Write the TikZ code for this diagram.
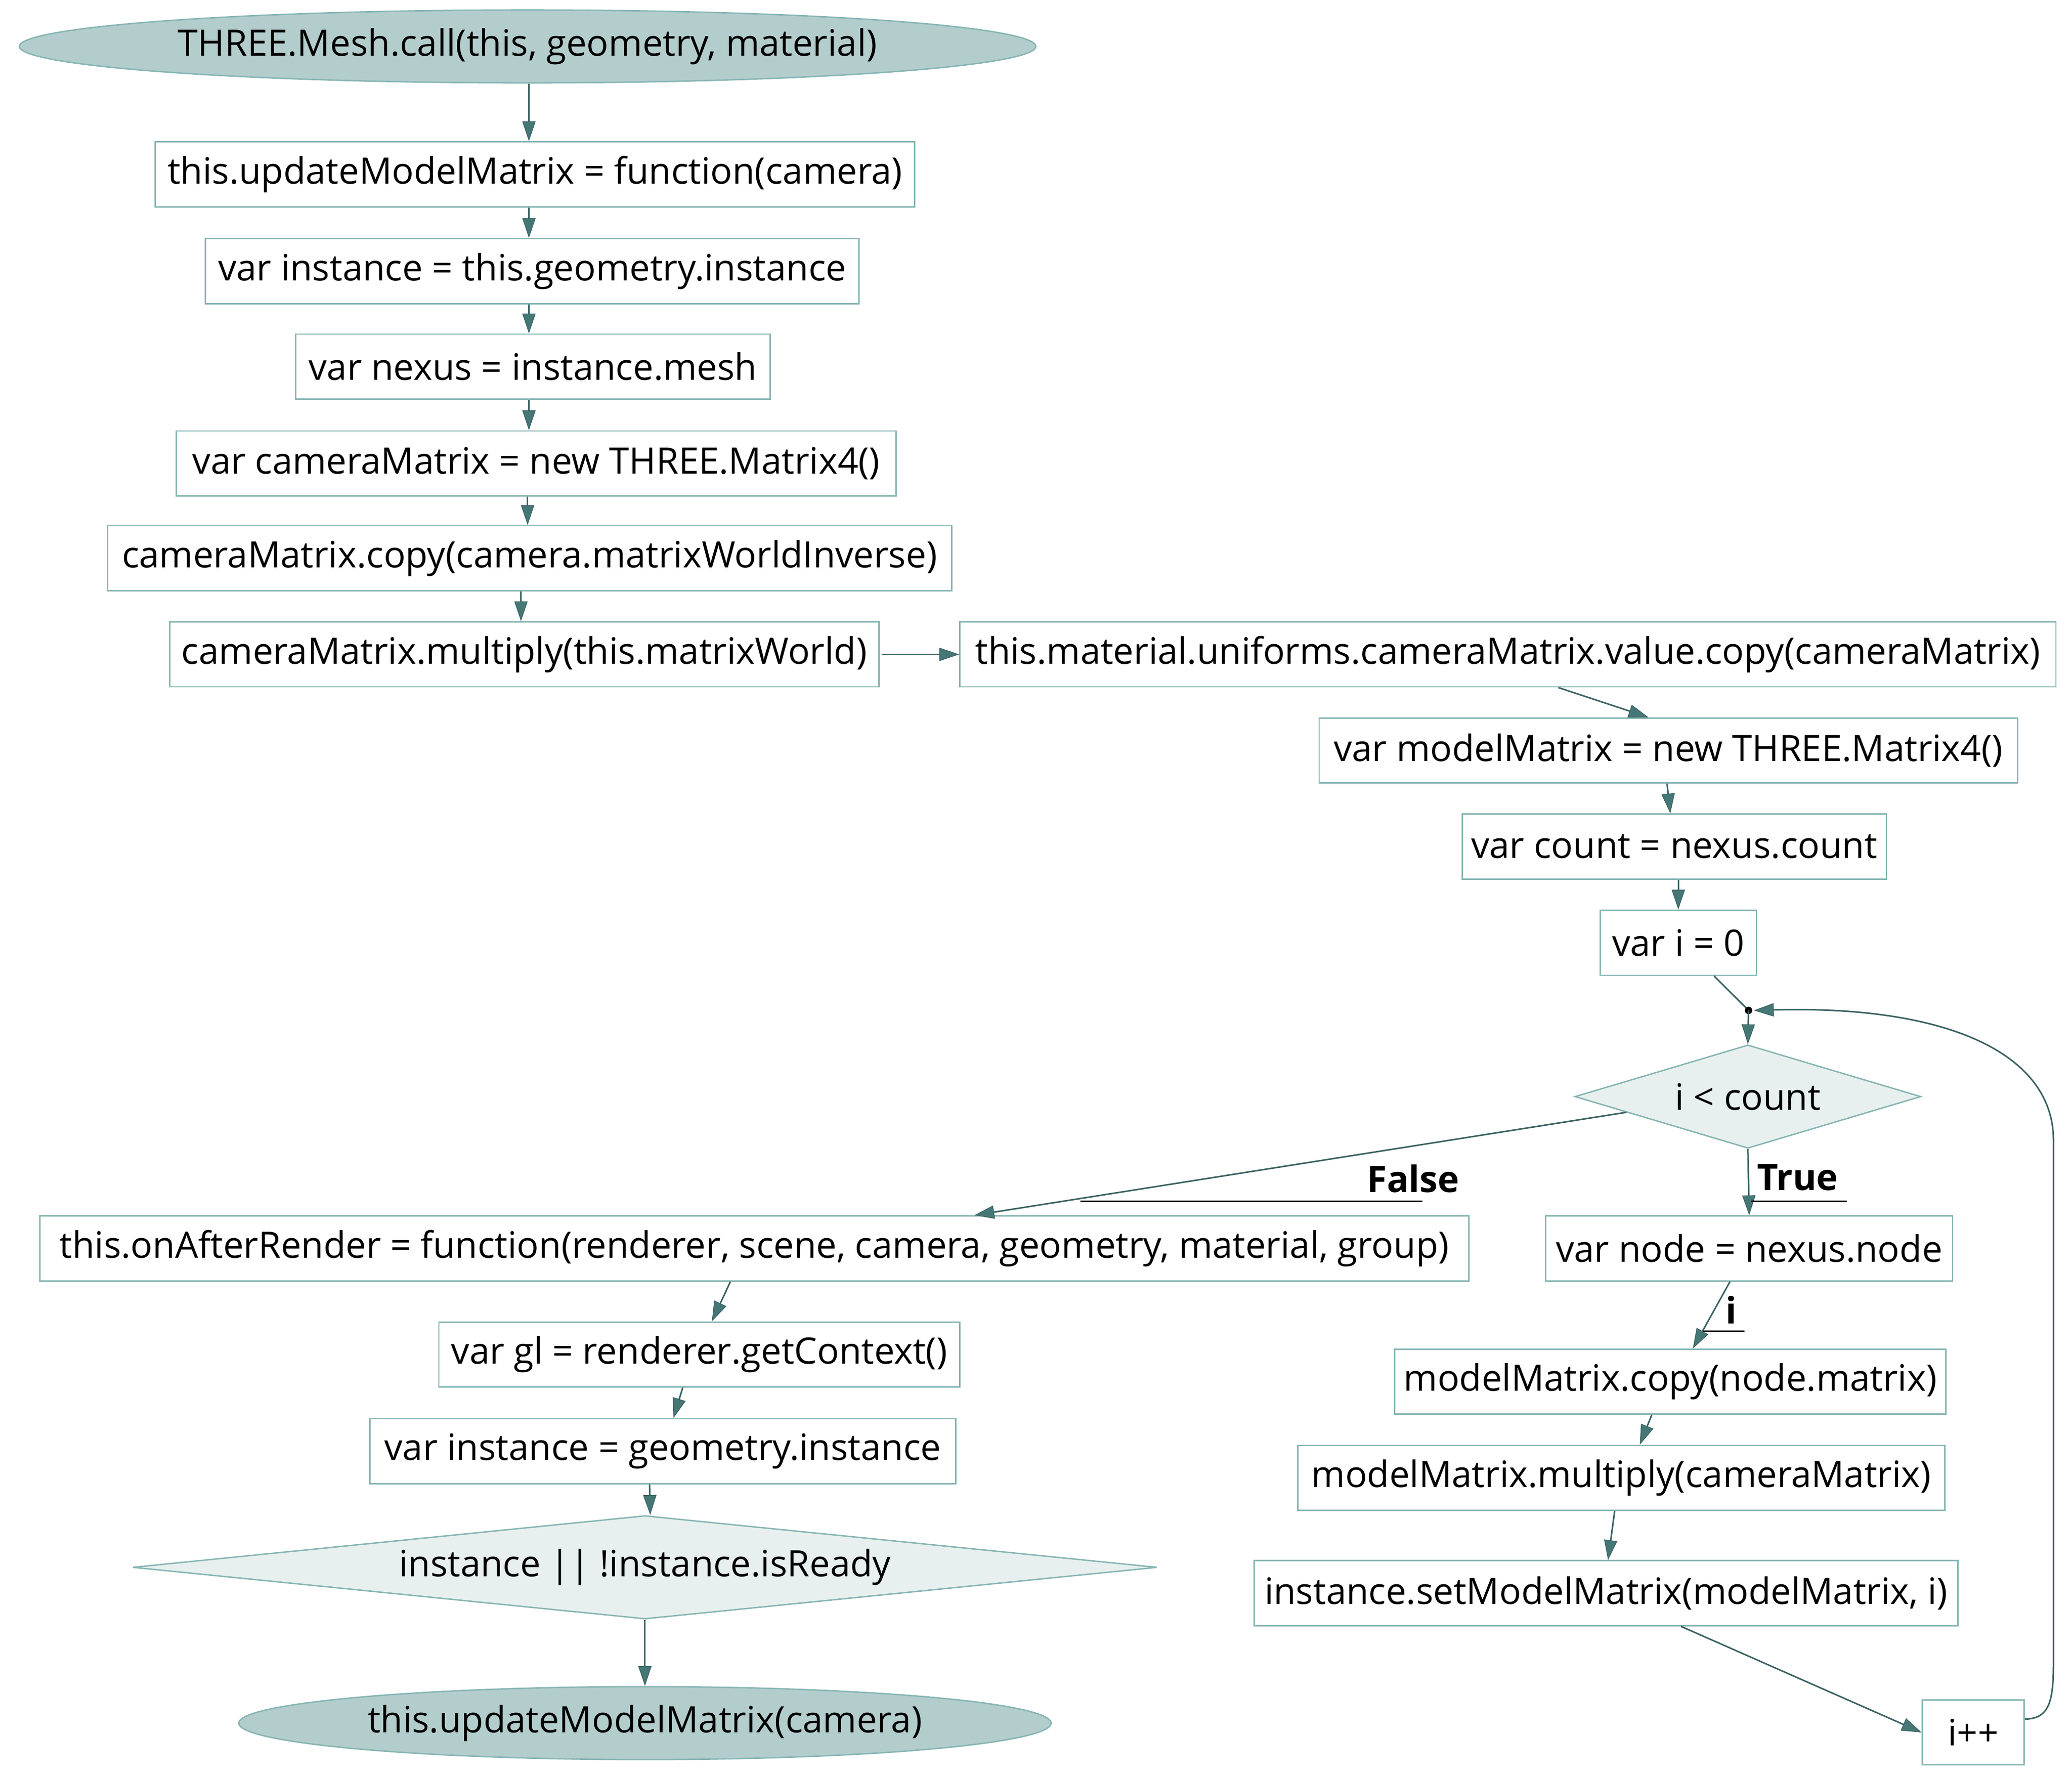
\documentclass[tikz,border=0pt]{standalone}
\usepackage{fontspec}
\setmainfont{Open Sans}
\usetikzlibrary{shapes.geometric,arrows.meta,calc}
\definecolor{boxc}{HTML}{86B5B3}
\definecolor{ellfill}{HTML}{B3CDCC}
\definecolor{dfill}{HTML}{E8F0EF}
\definecolor{edgec}{HTML}{3A6262}
\definecolor{tipc}{HTML}{467777}
\tikzset{
  box/.style={draw=boxc, line width=0.6pt, rectangle, inner sep=0pt, minimum height=0.98cm, font=\fontsize{15.6}{18}\selectfont},
  term/.style={draw=boxc, line width=0.6pt, fill=ellfill, ellipse, inner sep=0pt, minimum height=1.1cm, font=\fontsize{15.6}{18}\selectfont},
  cond/.style={draw=boxc, line width=0.6pt, fill=dfill, diamond, inner sep=0pt, minimum height=1.56cm, font=\fontsize{15.6}{18}\selectfont},
  edge/.style={draw=edgec, line width=0.65pt, -{Triangle[length=0.3cm,width=0.2cm,fill=tipc,line width=0.3pt]}},
  plain/.style={draw=edgec, line width=0.65pt},
  lab/.style={inner sep=0pt, font=\fontsize{15.6}{18}\selectfont\bfseries},
  ul/.style={draw=black, line width=0.75pt}
}
\begin{document}
\begin{tikzpicture}[x=0.02cm, y=-0.02cm]
\useasboundingbox (0,0) rectangle (1563,1340);
\fill[white] (0,0) rectangle (1563,1340);

\node[term, minimum width=15.34cm] (start) at (398,35) {THREE.Mesh.call(this, geometry, material)};
\node[box, minimum width=11.46cm] (b1) at (403.5,131.5) {this.updateModelMatrix = function(camera)};
\node[box, minimum width=9.86cm] (b2) at (401.5,204.5) {var instance = this.geometry.instance};
\node[box, minimum width=7.16cm] (b3) at (402,276.5) {var nexus = instance.mesh};
\node[box, minimum width=10.86cm] (b4) at (404.5,349.5) {var cameraMatrix = new THREE.Matrix4()};
\node[box, minimum width=12.74cm] (b5) at (399.5,421) {cameraMatrix.copy(camera.matrixWorldInverse)};
\node[box, minimum width=10.7cm] (b6) at (395.5,493.5) {cameraMatrix.multiply(this.matrixWorld)};
\node[box, minimum width=16.54cm] (b7) at (1137.5,493.5) {this.material.uniforms.cameraMatrix.value.copy(cameraMatrix)};
\node[box, minimum width=10.54cm] (b8) at (1258.5,566) {var modelMatrix = new THREE.Matrix4()};
\node[box, minimum width=6.4cm] (b9) at (1263,638.5) {var count = nexus.count};
\node[box, minimum width=2.36cm] (b10) at (1266,711) {var i = 0};
\coordinate (j) at (1319,762);
\node[cond, minimum width=5.22cm, shape aspect=3.35] (d1) at (1318.5,827) {i < count};
\node[box, minimum width=21.56cm] (b11) at (569,941.5) {this.onAfterRender = function(renderer, scene, camera, geometry, material, group)};
\node[box, minimum width=6.14cm] (b12) at (1319.5,941.5) {var node = nexus.node};
\node[box, minimum width=7.86cm] (b13) at (527.5,1021.5) {var gl = renderer.getContext()};
\node[box, minimum width=8.32cm] (b14) at (1260,1042) {modelMatrix.copy(node.matrix)};
\node[box, minimum width=8.84cm] (b15) at (500,1094.5) {var instance = geometry.instance};
\node[box, minimum width=9.76cm] (b16) at (1223,1114.5) {modelMatrix.multiply(cameraMatrix)};
\node[cond, minimum width=15.46cm, shape aspect=9.9] (d2) at (486.5,1182) {instance || !instance.isReady};
\node[box, minimum width=10.62cm] (b17) at (1211.5,1201.5) {instance.setModelMatrix(modelMatrix, i)};
\node[term, minimum width=12.26cm] (end) at (486.5,1299.5) {this.updateModelMatrix(camera)};
\node[box, minimum width=1.54cm] (b18) at (1488.5,1306.5) {i++};

% edges
\draw[edge] (start.south -| 399,0) -- (b1.north -| 399,0);
\draw[edge] (b1.south -| 399,0) -- (b2.north -| 399,0);
\draw[edge] (b2.south -| 399,0) -- (b3.north -| 399,0);
\draw[edge] (b3.south -| 399,0) -- (b4.north -| 399,0);
\draw[edge] (b4.south -| 398,0) -- (b5.north -| 398,0);
\draw[edge] (b5.south -| 393,0) -- (b6.north -| 393,0);
\draw[edge] (b6.east) ++(2,0) -- (b7.west);
\draw[edge] ($(b7.south)+(38,0)$) -- ($(b8.north)+(-15,0)$);
\draw[edge] ($(b8.south)+(-1,0)$) -- ($(b9.north)+(-3,0)$);
\draw[edge] (b10.north |- b9.south) -- (b10.north);
\draw[plain] ($(b10.south)+(27,0)$) -- (j);
\fill[black] (j) circle (2.8);
\draw[edge] (j) -- (d1.north);
\draw[edge] ($(b18.east)+(0,-10)$) .. controls (1545,1296) and (1549,1285) .. (1549,1255) -- (1549,860) .. controls (1549,795) and (1470,758) .. ($(j)+(4,0)$);

% False branch
\draw[edge] ($(d1.west)!0.3!(d1.south)$) -- coordinate[pos=0.837] (fu) ($(b11.north)+(166,0)$);
\node[lab] (flab) at (1066,889) {False};
\coordinate (fe) at (1073,906);
\draw[ul] (fu |- fe) -- (fe);

% True branch
\draw[edge] (d1.south) -- (b12.north);
\node[lab] (tlab) at (1356,888) {True};
\coordinate (ts) at (1321,906);
\coordinate (te) at (1393,906);
\draw[ul] (ts) -- (te);

% i branch
\draw[edge] ($(b12.south)+(-14.5,0)$) -- coordinate[pos=0.73] (iu) ($(b14.north)+(17,0)$);
\node[lab] (ilab) at (1306,988) {i};
\coordinate (ie) at (1316,1004);
\draw[ul] (iu |- ie) -- (ie);

\draw[edge] ($(b14.south)+(-14,0)$) -- ($(b16.north)+(14,0)$);
\draw[edge] ($(b16.south)+(-5,0)$) -- ($(b17.north)+(1.5,0)$);
\draw[edge] ($(b17.south)+(56.5,0)$) -- (b18.west);

\draw[edge] ($(b11.south)+(-18,0)$) -- ($(b13.north)+(9.5,0)$);
\draw[edge] ($(b13.south)+(-12.5,0)$) -- ($(b15.north)+(8,0)$);
\draw[edge] ($(b15.south)+(-10,0)$) -- ($(d2.north)+(4,0)$);
\draw[edge] (d2.south) -- (end.north);
\end{tikzpicture}
\end{document}
